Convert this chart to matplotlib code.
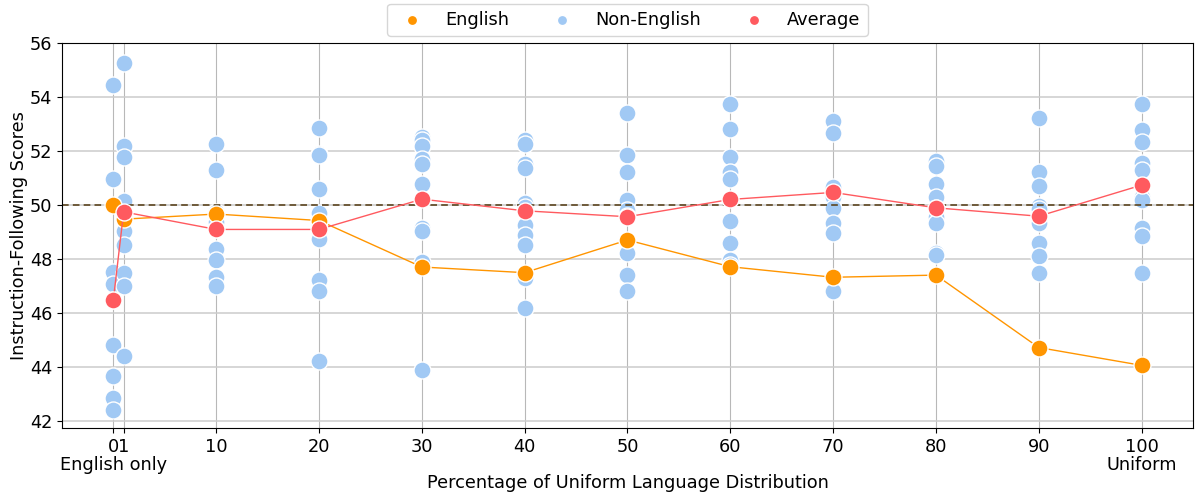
import matplotlib
matplotlib.use("Agg")
import matplotlib.pyplot as plt

# x positions (percentage of uniform language distribution)
percentages = [0, 1, 10, 20, 30, 40, 50, 60, 70, 80, 90, 100]
tick_labels = ["0\nEnglish only", "1", "10", "20", "30", "40", "50", "60",
               "70", "80", "90", "100\nUniform"]

english = [50.0, 49.48, 49.67, 49.43, 47.71, 47.50, 48.71, 47.72, 47.33, 47.41, 44.73, 44.07]
average = [46.5, 49.75, 49.10, 49.10, 50.22, 49.79, 49.57, 50.21, 50.47, 49.90, 49.59, 50.74]

non_english = {
    0: [54.45, 50.98, 47.52, 47.07, 46.5, 44.81, 43.69, 42.87, 42.40],
    1: [55.27, 52.18, 51.78, 50.16, 49.04, 48.54, 47.48, 47.01, 44.40],
    10: [52.28, 51.30, 49.75, 49.38, 49.1, 48.38, 47.97, 47.33, 46.99],
    20: [52.85, 51.91, 51.85, 50.58, 49.69, 48.83, 48.73, 47.23, 46.84, 44.24],
    30: [52.52, 52.40, 52.18, 51.72, 51.54, 50.80, 49.14, 49.05, 47.91, 43.91],
    40: [52.40, 52.25, 51.54, 51.38, 50.09, 49.94, 49.26, 48.89, 48.52, 47.30, 46.19],
    50: [53.41, 51.85, 51.22, 50.18, 49.82, 49.6, 48.22, 47.41, 46.84],
    60: [53.73, 52.83, 51.78, 51.23, 50.98, 49.41, 48.61, 47.97, 47.8],
    70: [53.10, 52.68, 50.68, 50.31, 49.88, 49.35, 48.96, 46.84],
    80: [51.64, 51.46, 50.80, 50.31, 49.9, 49.57, 49.35, 48.22, 48.15],
    90: [53.24, 51.21, 50.71, 49.97, 49.85, 49.32, 48.61, 48.13, 47.48],
    100: [53.73, 52.77, 52.35, 51.56, 51.30, 50.31, 50.18, 49.14, 48.87, 47.48],
}

baseline = 50.0

c_blue = "#a1c9f4"
c_orange = "#ff9500"
c_red = "#ff5a5f"

plt.rcParams["font.family"] = ["DejaVu Sans"]
fig = plt.figure(figsize=(11.96, 4.92), dpi=100)
ax = fig.add_axes([0.0518, 0.130, 0.9457, 0.7826])

ax.set_axisbelow(True)
ax.grid(True, axis="y", color="#cccccc", linewidth=1.1)
ax.grid(True, axis="x", color="#b8b8b8", linewidth=0.8)

first = True
for x, vals in non_english.items():
    ax.scatter([x] * len(vals), vals, s=150, color=c_blue, edgecolor="white",
               linewidth=1.0, zorder=2, label="Non-English" if first else None)
    first = False

ax.axhline(baseline, color="#5c4520", linestyle=(0, (4, 2.5)), linewidth=1.2, zorder=2.5)

ax.plot(percentages, english, color=c_orange, linewidth=1.0, zorder=3)
ax.scatter(percentages, english, s=150, color=c_orange, edgecolor="white",
           linewidth=1.0, zorder=3, label="English")
ax.plot(percentages, average, color=c_red, linewidth=1.0, zorder=4)
ax.scatter(percentages, average, s=150, color=c_red, edgecolor="white",
           linewidth=1.0, zorder=4, label="Average")

ax.set_xticks(percentages)
ax.set_xticklabels(tick_labels, fontsize=12.8, linespacing=1.0)
ax.set_yticks([42, 44, 46, 48, 50, 52, 54, 56])
ax.tick_params(axis="y", labelsize=12.8)
ax.set_xlim(-5, 105)
ax.set_ylim(41.75, 56.0)

ax.set_xlabel("Percentage of Uniform Language Distribution", fontsize=12.8, labelpad=0)
ax.set_ylabel("Instruction-Following Scores", fontsize=12.8, labelpad=1)

handles, labels = ax.get_legend_handles_labels()
order = [labels.index("English"), labels.index("Non-English"), labels.index("Average")]
ax.legend([handles[i] for i in order], [labels[i] for i in order],
          loc="lower center", bbox_to_anchor=(0.5, 0.995), ncol=3, fontsize=12.8,
          markerscale=0.6, handlelength=2.0, columnspacing=2.0, handletextpad=0.85,
          borderpad=0.4, frameon=True)

fig.savefig("out.png", dpi=100)
